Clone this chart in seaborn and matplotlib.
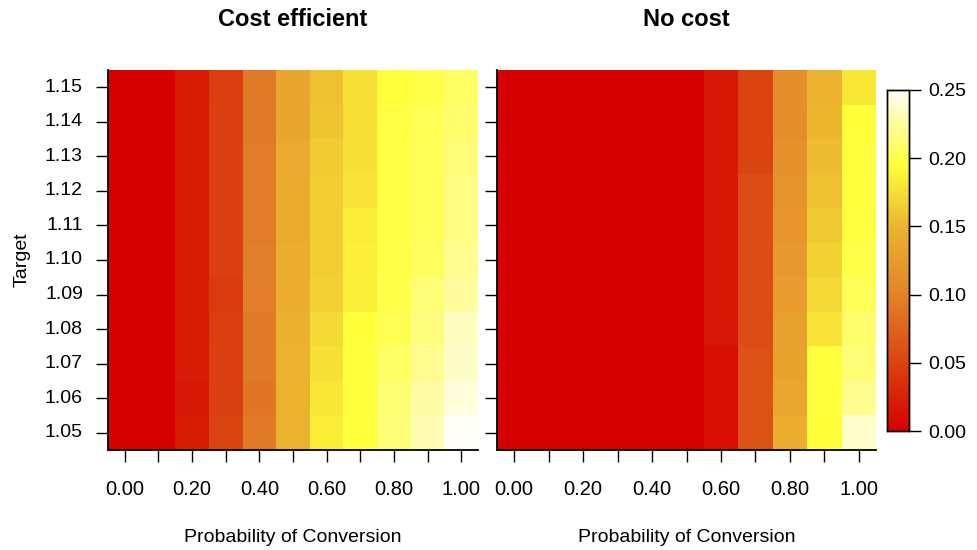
import numpy as np
import pandas as pd
import matplotlib
matplotlib.use("agg")
import matplotlib.pyplot as plt
from matplotlib.colors import LinearSegmentedColormap
import seaborn as sns

# conversion probabilities (columns) and targets (rows, top to bottom)
probs = [0.0, 0.1, 0.2, 0.3, 0.4, 0.5, 0.6, 0.7, 0.8, 0.9, 1.0]
targets = [1.15, 1.14, 1.13, 1.12, 1.11, 1.10, 1.09, 1.08, 1.07, 1.06, 1.05]

cost_efficient = [
    [0, 0, 0.022, 0.045, 0.092, 0.135, 0.158, 0.175, 0.196, 0.200, 0.208],
    [0, 0, 0.022, 0.047, 0.092, 0.135, 0.160, 0.175, 0.198, 0.203, 0.210],
    [0, 0, 0.022, 0.047, 0.093, 0.137, 0.164, 0.176, 0.198, 0.204, 0.214],
    [0, 0, 0.022, 0.047, 0.093, 0.140, 0.165, 0.178, 0.198, 0.205, 0.218],
    [0, 0, 0.022, 0.047, 0.093, 0.140, 0.165, 0.183, 0.198, 0.205, 0.218],
    [0, 0, 0.022, 0.047, 0.096, 0.143, 0.166, 0.185, 0.199, 0.207, 0.222],
    [0, 0, 0.022, 0.043, 0.095, 0.143, 0.167, 0.186, 0.200, 0.213, 0.226],
    [0, 0, 0.022, 0.045, 0.092, 0.147, 0.172, 0.195, 0.203, 0.216, 0.235],
    [0, 0, 0.022, 0.047, 0.092, 0.148, 0.176, 0.196, 0.208, 0.221, 0.237],
    [0, 0, 0.018, 0.047, 0.088, 0.148, 0.180, 0.196, 0.212, 0.228, 0.242],
    [0, 0, 0.022, 0.050, 0.092, 0.148, 0.183, 0.196, 0.213, 0.232, 0.250],
]

no_cost = [
    [0, 0, 0, 0, 0, 0, 0.018, 0.050, 0.110, 0.148, 0.180],
    [0, 0, 0, 0, 0, 0, 0.018, 0.050, 0.110, 0.152, 0.195],
    [0, 0, 0, 0, 0, 0, 0.018, 0.050, 0.113, 0.155, 0.196],
    [0, 0, 0, 0, 0, 0, 0.018, 0.057, 0.117, 0.158, 0.196],
    [0, 0, 0, 0, 0, 0, 0.018, 0.057, 0.118, 0.163, 0.197],
    [0, 0, 0, 0, 0, 0, 0.018, 0.057, 0.122, 0.168, 0.200],
    [0, 0, 0, 0, 0, 0, 0.018, 0.057, 0.125, 0.172, 0.205],
    [0, 0, 0, 0, 0, 0, 0.018, 0.057, 0.130, 0.178, 0.210],
    [0, 0, 0, 0, 0, 0, 0.010, 0.060, 0.132, 0.196, 0.213],
    [0, 0, 0, 0, 0, 0, 0.010, 0.060, 0.136, 0.196, 0.222],
    [0, 0, 0, 0, 0, 0, 0.010, 0.060, 0.143, 0.195, 0.238],
]

cbar_ticks = [0.0, 0.05, 0.10, 0.15, 0.20, 0.25]

sns.set_style("white")
plt.rcParams['font.family'] = ['Liberation Sans', 'DejaVu Sans']
plt.rcParams['text.color'] = 'black'
plt.rcParams['axes.labelcolor'] = 'black'
plt.rcParams['xtick.color'] = 'black'
plt.rcParams['ytick.color'] = 'black'

vmax = 0.25
cmap = LinearSegmentedColormap.from_list("heat", [
    (0.0, "#D70000"),
    (0.05 / vmax, "#DA4410"),
    (0.10 / vmax, "#E2842A"),
    (0.15 / vmax, "#EBB42F"),
    (0.195 / vmax, "#FFFF3A"),
    (0.225 / vmax, "#FFFC98"),
    (1.0, "#FFFFF8"),
])

fig = plt.figure(figsize=(9.77, 5.5), dpi=100)
W, H = 977, 550
ax1 = fig.add_axes([108 / W, 100 / H, 370 / W, 380 / H])
ax2 = fig.add_axes([497 / W, 100 / H, 379 / W, 380 / H])
cax = fig.add_axes([887 / W, 119 / H, 22 / W, 341 / H])

xlabels = [f"{p:.2f}" if i % 2 == 0 else "" for i, p in enumerate(probs)]
ylabels = [f"{t:.2f}" for t in targets]

panels = [(ax1, cost_efficient, "Cost efficient"), (ax2, no_cost, "No cost")]
for i, (ax, vals, title) in enumerate(panels):
    df = pd.DataFrame(vals, index=ylabels, columns=probs)
    sns.heatmap(df, ax=ax, cmap=cmap, vmin=0, vmax=vmax,
                cbar=(i == 0), cbar_ax=cax if i == 0 else None,
                xticklabels=xlabels, yticklabels=ylabels if i == 0 else False)
    for s in ["left", "bottom"]:
        ax.spines[s].set_visible(True)
        ax.spines[s].set_color("black")
        ax.spines[s].set_linewidth(1.3)
    ax.set_yticks(np.arange(len(targets)) + 0.5)
    if i == 0:
        ax.set_yticklabels(ylabels, rotation=0)
    else:
        ax.set_yticklabels([])
    ax.set_xticks(np.arange(len(probs)) + 0.5)
    ax.set_xticklabels(xlabels, rotation=0)
    ax.tick_params(axis="x", bottom=True, length=8.6, width=1.0, color="black",
                   labelsize=14.5, labelcolor="black", pad=13)
    ax.tick_params(axis="y", left=True, length=8.6, width=1.0, color="black",
                   labelsize=14, labelcolor="black", pad=9.4)
    ax.text(0.5, 1 + 50 / 380, title, transform=ax.transAxes, ha="center",
            va="center", fontsize=17, fontweight="bold", color="black")
    ax.set_xlabel("Probability of Conversion", fontsize=14, color="black")
    ax.xaxis.set_label_coords(0.5, -87 / 380)
    ax.xaxis.label.set_va("center")
    ax.set_ylabel("")

ax1.set_ylabel("Target", fontsize=14, color="black")
ax1.yaxis.set_label_coords(-86 / 370, 0.5)
ax1.yaxis.label.set_va("center")

cax.set_yticks(cbar_ticks)
cax.set_yticklabels([f"{t:.2f}" for t in cbar_ticks])
cax.tick_params(axis="y", right=True, length=8.6, width=1.0, color="black",
                labelsize=14, labelcolor="black", pad=5)
for s in cax.spines.values():
    s.set_visible(True)
    s.set_color("black")
    s.set_linewidth(1.0)

fig.savefig("out.png", dpi=100)
